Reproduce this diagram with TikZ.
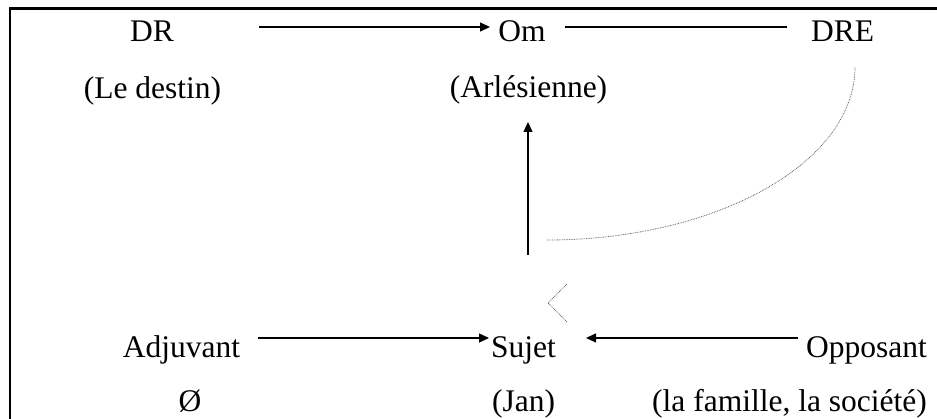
\documentclass[tikz,border=0pt]{standalone}
\usepackage{fontspec}
\setmainfont{Liberation Serif}
\usetikzlibrary{arrows.meta}
\begin{document}
\begin{tikzpicture}[x=1pt,y=-1pt,
  lbl/.style={anchor=base, inner sep=0pt, font=\fontsize{31.5}{36}\selectfont},
  arr/.style={line width=1.3pt, -{Triangle[length=10pt,width=9pt]}},
  ln/.style={line width=1.3pt},
  dots/.style={black!60, line width=0.8pt, dash pattern=on 0.8pt off 0.9pt}]
\useasboundingbox (0,0) rectangle (937,419);
\draw[line width=2.5pt] (10,8.5) rectangle (960,440);
% labels
\node[lbl] (DR) at (152,42) {DR};
\node[lbl] (LeDestin) at (152.5,99) {(Le destin)};
\node[lbl] (Om) at (522,42) {Om};
\node[lbl] (Arl) at (528.5,98) {(Arlésienne)};
\node[lbl] (DRE) at (842.5,42) {DRE};
\node[lbl] (Adj) at (181.5,358) {Adjuvant};
\node[lbl] (Vide) at (190,412) {Ø};
\node[lbl] (Sujet) at (523.5,358) {Sujet};
\node[lbl] (Jan) at (523.5,412) {(Jan)};
\node[lbl, anchor=base east] (Opp) at (927,358) {Opposant};
\node[lbl, anchor=base east] (Fam) at (927,412) {(la famille, la société)};
% connector end points
\coordinate (drR) at (259,27);
\coordinate (omL) at (490,27);
\coordinate (omR) at (565,27);
\coordinate (dreL) at (787,27);
\coordinate (sujT) at (528,255);
\coordinate (arlB) at (528,122);
\coordinate (adjR) at (258,338);
\coordinate (sujL) at (489,338);
\coordinate (oppL) at (798,338);
\coordinate (sujR) at (586,338);
\coordinate (curveA) at (547,240);
\coordinate (curveB) at (855,67);
\coordinate (chevT) at (567,284);
\coordinate (chevM) at (548,303);
\coordinate (chevB) at (567,322);
% connectors
\draw[arr] (drR) -- (omL);
\draw[ln] (omR) -- (dreL);
\draw[arr] (sujT) -- (arlB);
\draw[arr] (adjR) -- (sujL);
\draw[arr] (oppL) -- (sujR);
\draw[dots] (curveA) .. controls (717,240) and (855,162.5) .. (curveB);
\draw[dots] (chevT) -- (chevM) -- (chevB);
\end{tikzpicture}
\end{document}
